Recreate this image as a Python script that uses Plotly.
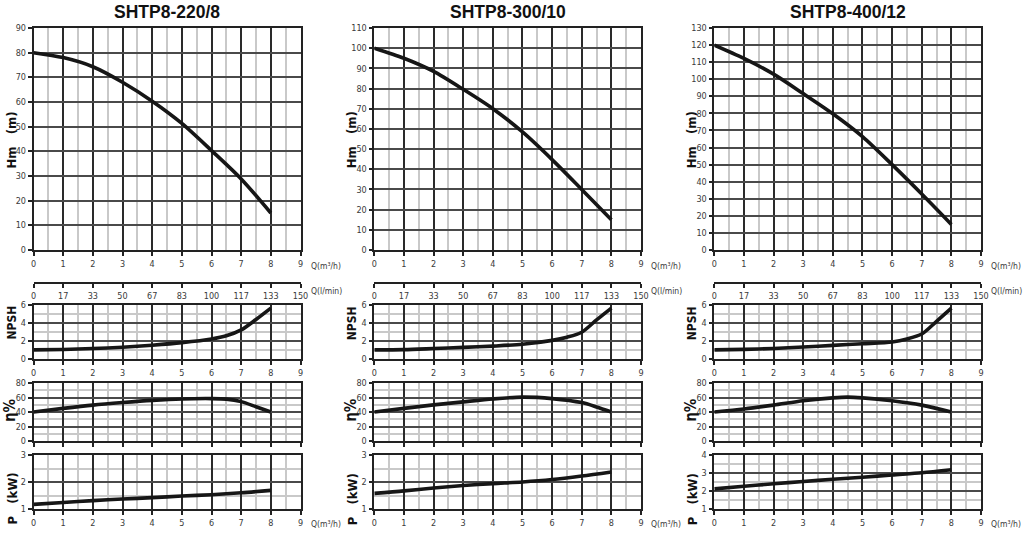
import plotly.graph_objects as go

W, H = 1026, 537

titles = ["SHTP8-220/8", "SHTP8-300/10", "SHTP8-400/12"]

# ---- Hm curves ----
q_hm = [0, 1, 2, 3, 4, 5, 6, 7, 8]
hm_1 = [80, 78, 74.3, 68, 60.3, 51.3, 40.3, 28.8, 15]
hm_2 = [100, 95, 88.5, 79.6, 70, 58.5, 44.8, 30, 15]
hm_3 = [120, 112.2, 103, 91.6, 79.8, 66.4, 50, 32.8, 15]

# ---- NPSH curves ----
q_npsh = [0, 1, 2, 3, 4, 5, 6, 6.5, 7, 7.5, 8]
npsh_1 = [1.0, 1.05, 1.15, 1.3, 1.52, 1.8, 2.2, 2.55, 3.2, 4.35, 5.6]
npsh_2 = [1.0, 1.03, 1.15, 1.28, 1.42, 1.62, 2.05, 2.4, 2.95, 4.3, 5.6]
npsh_3 = [1.0, 1.06, 1.16, 1.32, 1.5, 1.68, 1.88, 2.2, 2.75, 4.15, 5.6]

# ---- Efficiency curves ----
q_eta_1 = [0, 1, 2, 3, 4, 5, 6, 6.5, 7, 7.5, 8]
eta_1 = [40, 45, 49.5, 53, 56, 58, 58.5, 57.8, 54.3, 47.3, 40]
q_eta_2 = [0, 1, 2, 3, 4, 5, 6, 7, 7.5, 8]
eta_2 = [40, 45, 49.8, 54, 58, 60.5, 58.5, 53, 47, 40]
q_eta_3 = [0, 1, 2, 3, 4, 4.5, 5, 6, 7, 8]
eta_3 = [40, 44.2, 49.5, 55.5, 59.5, 60.5, 59.5, 55.5, 49.5, 40]

# ---- Power curves ----
q_p = [0, 1, 2, 3, 4, 5, 6, 7, 8]
p_1 = [1.17, 1.24, 1.31, 1.37, 1.42, 1.48, 1.53, 1.6, 1.69]
p_2 = [1.58, 1.67, 1.78, 1.87, 1.94, 2.0, 2.09, 2.22, 2.37]
p_3 = [2.12, 2.26, 2.4, 2.53, 2.65, 2.76, 2.89, 3.01, 3.18]

# ---- axes labels ----
q_ticks = [0, 1, 2, 3, 4, 5, 6, 7, 8, 9]
lmin_labels = ["0", "17", "33", "50", "67", "83", "100", "117", "133", "150"]
hm_max = [90, 110, 130]
p_range = [[1, 3], [1, 3], [1, 4]]

cols = [
    dict(hm=hm_1, npsh=npsh_1, qe=q_eta_1, eta=eta_1, p=p_1),
    dict(hm=hm_2, npsh=npsh_2, qe=q_eta_2, eta=eta_2, p=p_2),
    dict(hm=hm_3, npsh=npsh_3, qe=q_eta_3, eta=eta_3, p=p_3),
]

FONT = "DejaVu Sans Condensed, Liberation Sans, Arial, sans-serif"
TFONT = "Liberation Sans, Arial, sans-serif"
LFONT = "DejaVu Sans Condensed, Liberation Sans, Arial, sans-serif"
TICKC = "#3a3a3a"
MAJOR = "#4a4a4a"
MAJORV = "#2a2a2a"
MINOR = "#c9c9c9"
CURVE = "#161616"
TS = 9

def px(x):
    return x / W

def py(y):
    return 1 - y / H

col_x = [(33.5, 300.5), (374.3, 641), (714.3, 981)]
rows = {
    "hm": (28, 250),
    "lmin": (281, 282),
    "npsh": (304.5, 359),
    "eta": (383, 441),
    "p": (455, 509),
}

fig = go.Figure()
layout = {}
annotations = []
idx = 0

def axname(i):
    return "" if i == 1 else str(i)

def xaxis_common(dom, show_labels, anchor):
    return dict(
        domain=[px(dom[0]), px(dom[1])], range=[0, 9], anchor=anchor, automargin=False,
        tickmode="array", tickvals=q_ticks, ticktext=[str(t) for t in q_ticks],
        showticklabels=show_labels, ticks="outside", ticklen=4, tickwidth=1.5,
        tickcolor="#222", showline=True, linecolor="#222", linewidth=1.5, mirror=True,
        showgrid=True, gridcolor=MAJORV, gridwidth=1.6, zeroline=False,
        minor=dict(dtick=0.5, showgrid=True, gridcolor=MINOR, gridwidth=1.6, ticks=""),
        tickfont=dict(family=FONT, size=TS, color=TICKC), fixedrange=True,
    )

def yaxis_common(dom, rng, dtick, minor, anchor):
    d = dict(
        domain=[py(dom[1]), py(dom[0])], range=rng, anchor=anchor, dtick=dtick, automargin=False,
        tick0=rng[0], ticks="outside", ticklen=4, tickwidth=1.5, tickcolor="#222",
        showline=True, linecolor="#222", linewidth=1.5, mirror=True,
        showgrid=True, gridcolor=MAJOR, gridwidth=1.6, zeroline=False,
        tickfont=dict(family=FONT, size=TS, color=TICKC), fixedrange=True,
    )
    if minor:
        d["minor"] = dict(dtick=minor, tick0=rng[0], showgrid=True, gridcolor=MINOR, gridwidth=1.6, ticks="")
    return d

for c in range(3):
    data = cols[c]
    xd = col_x[c]
    panels = [
        ("hm", q_hm, data["hm"], [0, hm_max[c]], 10, None, True),
        ("lmin", None, None, None, None, None, None),
        ("npsh", q_npsh, data["npsh"], [0, 6], 2, 1, True),
        ("eta", data["qe"], data["eta"], [0, 80], 20, 10, False),
        ("p", q_p, data["p"], p_range[c], 1, 0.5, True),
    ]
    for name, xs, ys, rng, dt, mn, lbl in panels:
        idx += 1
        xa, ya = "x" + axname(idx), "y" + axname(idx)
        if name == "lmin":
            layout["xaxis" + axname(idx)] = dict(
                domain=[px(xd[0]), px(xd[1])], range=[0, 150], anchor=ya, automargin=False,
                tickmode="array", tickvals=[i * 150 / 9 for i in range(10)], ticktext=lmin_labels,
                ticks="outside", ticklen=4, tickwidth=1.5, tickcolor="#222",
                showline=True, linecolor="#222", linewidth=1.5, showgrid=False, zeroline=False,
                tickfont=dict(family=FONT, size=TS, color=TICKC), fixedrange=True,
            )
            layout["yaxis" + axname(idx)] = dict(
                domain=[py(rows[name][1]), py(rows[name][0])], anchor=xa, visible=False,
                range=[0, 1], fixedrange=True, automargin=False,
            )
            fig.add_trace(go.Scatter(x=[None], y=[None], xaxis=xa, yaxis=ya,
                                     showlegend=False, hoverinfo="skip"))
            continue
        layout["xaxis" + axname(idx)] = xaxis_common(xd, lbl, ya)
        layout["yaxis" + axname(idx)] = yaxis_common(rows[name], rng, dt, mn, xa)
        fig.add_trace(go.Scatter(
            x=xs, y=ys, xaxis=xa, yaxis=ya, mode="lines",
            line=dict(color=CURVE, width=3.6, shape="spline", smoothing=0.8),
            showlegend=False, hoverinfo="skip",
        ))

    # titles
    annotations.append(dict(
        text="<b>" + titles[c] + "</b>", x=px((xd[0] + xd[1]) / 2), y=py(12),
        xref="paper", yref="paper", showarrow=False, xanchor="center", yanchor="middle",
        font=dict(family=TFONT, size=17.5, color="#111"),
    ))
    # y titles
    for txt, yc, size, dx in [("<b>Hm   (m)</b>", 140, 13, 22), ("<b>NPSH</b>", 323, 12, 22),
                              ("<b>η%</b>", 410, 15, 23.5), ("<b>P   (kW)</b>", 499, 13, 22)]:
        annotations.append(dict(
            text=txt, x=px(xd[0] - dx), y=py(yc), xref="paper", yref="paper", showarrow=False,
            textangle=-90, xanchor="center", yanchor="middle",
            font=dict(family=LFONT, size=size, color="#111"),
        ))
    # unit labels
    for txt, yc in [("Q(m³/h)", 266), ("Q(l/min)", 291), ("Q(m³/h)", 524)]:
        annotations.append(dict(
            text=txt, x=px(xd[1] + 8), y=py(yc), xref="paper", yref="paper",
            showarrow=False, xanchor="left", yanchor="middle",
            font=dict(family=FONT, size=8.5, color=TICKC),
        ))

fig.update_layout(
    width=W, height=H, margin=dict(l=0, r=0, t=0, b=0, autoexpand=False),
    paper_bgcolor="white", plot_bgcolor="white",
    annotations=annotations, **layout,
)

fig.write_html("out.html", config={"displayModeBar": False},
               post_script="document.body.style.margin='0';document.body.style.overflow='hidden';")
